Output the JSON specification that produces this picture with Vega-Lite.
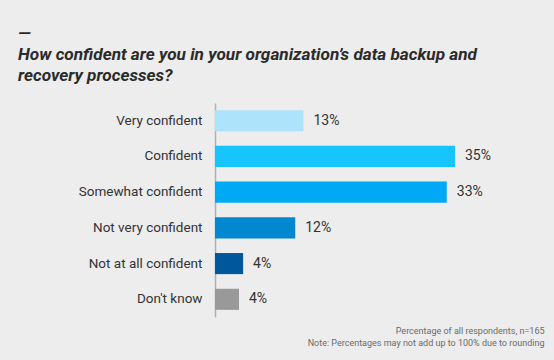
{
  "$schema": "https://vega.github.io/schema/vega-lite/v6.json",
  "autosize": "none",
  "width": 300,
  "height": 214,
  "padding": {"left": 215, "top": 103, "right": 39, "bottom": 43},
  "background": "#ededed",
  "title": {
    "text": ["—", "How confident are you in your organization’s data backup and", "recovery processes?"],
    "anchor": "start",
    "frame": "group",
    "dx": -197,
    "font": "Roboto",
    "fontSize": 17.2,
    "fontStyle": "italic",
    "fontWeight": "bold",
    "color": "#2b2b2b",
    "lineHeight": 21,
    "offset": 19
  },
  "config": {
    "view": {"stroke": null},
    "font": "Roboto"
  },
  "data": {
    "values": [
      {"response": "Very confident", "pct": 12.9, "label": "13%", "color": "#ade4fb"},
      {"response": "Confident", "pct": 35.0, "label": "35%", "color": "#15c5fb"},
      {"response": "Somewhat confident", "pct": 33.8, "label": "33%", "color": "#00a9f4"},
      {"response": "Not very confident", "pct": 11.7, "label": "12%", "color": "#0288d1"},
      {"response": "Not at all confident", "pct": 4.1, "label": "4%", "color": "#01579b"},
      {"response": "Don't know", "pct": 3.5, "label": "4%", "color": "#999999"}
    ]
  },
  "encoding": {
    "y": {
      "field": "response",
      "type": "nominal",
      "sort": null,
      "scale": {"paddingInner": 0.41, "paddingOuter": 0.2},
      "axis": {
        "title": null,
        "ticks": false,
        "labelPadding": 13,
        "labelFont": "Roboto",
        "labelFontSize": 13.5,
        "labelColor": "#333333",
        "domainColor": "#b0b0b0",
        "domainWidth": 1.5
      }
    },
    "x": {
      "field": "pct",
      "type": "quantitative",
      "scale": {"domain": [0, 43.75], "nice": false},
      "axis": {
        "grid": false,
        "labels": false,
        "ticks": false,
        "domain": false,
        "title": ["Percentage of all respondents, n=165", "Note: Percentages may not add up to 100% due to rounding"],
        "titleAnchor": "end",
        "titleAlign": "right",
        "titleBaseline": "alphabetic",
        "titleX": 329,
        "titleY": 16,
        "titleFont": "Roboto",
        "titleFontSize": 9,
        "titleFontWeight": "normal",
        "titleColor": "#6b6b6b",
        "titleLineHeight": 12
      }
    }
  },
  "layer": [
    {
      "mark": {"type": "bar"},
      "encoding": {
        "color": {"field": "color", "type": "nominal", "scale": null}
      }
    },
    {
      "mark": {"type": "text", "align": "left", "baseline": "middle", "dx": 10, "font": "Roboto", "fontSize": 14, "color": "#333333"},
      "encoding": {
        "text": {"field": "label"}
      }
    }
  ]
}
